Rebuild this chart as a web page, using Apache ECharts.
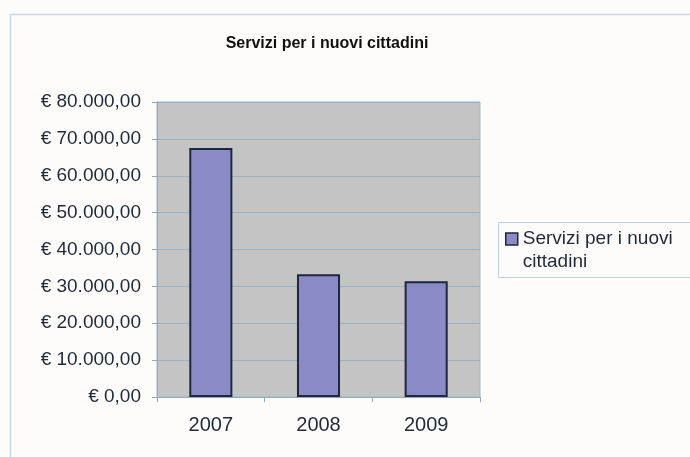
<!DOCTYPE html>
<html><head><meta charset="utf-8">
<script src="https://cdn.jsdelivr.net/npm/echarts@6/dist/echarts.min.js"></script>
<style>html,body{margin:0;padding:0;background:#fefcfb;}#c{width:690px;height:457px;}</style>
</head><body><div id="c"></div>
<script>
const title = 'Servizi per i nuovi cittadini';
const categories = ['2007', '2008', '2009'];
const values = [67500, 33300, 31400];
const yTicks = [0, 10000, 20000, 30000, 40000, 50000, 60000, 70000, 80000];

function fmtEuro(v) {
  const s = Math.round(v).toString().replace(/\B(?=(\d{3})+(?!\d))/g, '.');
  return '€ ' + s + ',00';
}
const txt = '#1e2a3a';
const chart = echarts.init(document.getElementById('c'));
chart.setOption({
  backgroundColor: '#fefcfb',
  animation: false,
  title: {
    text: title, left: 322, top: 31, textAlign: 'center',
    textStyle: { fontFamily: 'Liberation Sans', fontSize: 16, fontWeight: 'bold', color: '#111' }
  },
  graphic: [{
    type: 'rect', shape: { x: 10.5, y: 14.5, width: 700, height: 460 },
    style: { fill: 'none', stroke: '#c5d6e4', lineWidth: 1.5 }, silent: true, z: -1
  }, {
    type: 'rect', shape: { x: 498.5, y: 222.5, width: 220, height: 55 },
    style: { fill: 'none', stroke: '#bcd0e2', lineWidth: 1 }, silent: true
  }],
  legend: {
    left: 505, top: 204.5, orient: 'vertical', icon: 'rect',
    itemWidth: 12, itemHeight: 12, padding: 0,
    formatter: () => '{s| }\n{a|Servizi per i nuovi}\n{a|cittadini}',
    textStyle: {
      fontFamily: 'Liberation Sans', fontSize: 19, color: txt,
      rich: {
        s: { height: 23, lineHeight: 23, fontSize: 19 },
        a: { height: 23, lineHeight: 23, fontSize: 19, fontFamily: 'Liberation Sans', color: txt }
      }
    },
    data: [{ name: title, itemStyle: { color: '#8a8ac6', borderColor: '#1c2840', borderWidth: 1.5 } }]
  },
  grid: { left: 157, right: 210, top: 102, bottom: 60, show: true, backgroundColor: '#c4c4c4', borderColor: '#9fb8cc', borderWidth: 1 },
  xAxis: {
    type: 'category', data: categories,
    axisLine: { lineStyle: { color: '#8fa9c0', width: 1 } },
    axisTick: { show: true, length: 5, lineStyle: { color: '#8fa9c0' } },
    axisLabel: { fontFamily: 'Liberation Sans', fontSize: 20, color: txt, margin: 18 }
  },
  yAxis: {
    type: 'value', min: 0, max: 80000, interval: 10000,
    axisLine: { show: true, lineStyle: { color: '#8fa9c0' } },
    axisTick: { show: true, length: 5, lineStyle: { color: '#8fa9c0' } },
    splitLine: { lineStyle: { color: '#94b2ca', width: 1 } },
    axisLabel: { fontFamily: 'Liberation Sans', fontSize: 19, color: txt, margin: 16,
      formatter: v => yTicks.includes(v) ? fmtEuro(v) : '' }
  },
  series: [{
    name: title, type: 'bar', data: values, barWidth: '40%',
    itemStyle: { color: '#8a8ac6', borderColor: '#1c2840', borderWidth: 2 }
  }]
});
</script></body></html>
